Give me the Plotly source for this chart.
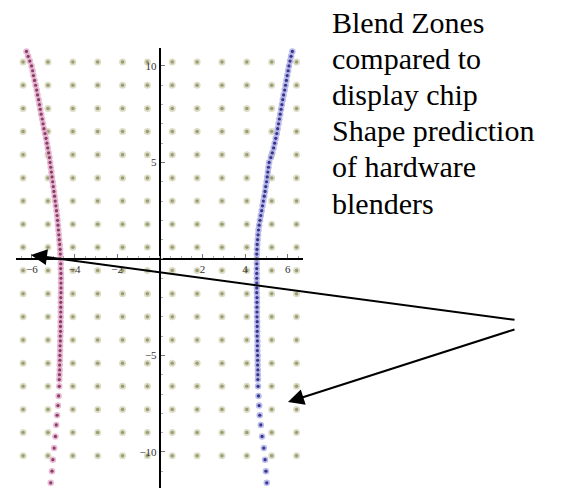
import plotly.graph_objects as go

# ---- data ----
grid_x = [-6.417, -5.25, -4.083, -2.917, -1.75, -0.583, 0.583, 1.75, 2.917, 4.083, 5.25, 6.417]
grid_y = [-10.2, -9.0, -7.8, -6.6, -5.4, -4.2, -3.0, -1.8, -0.6, 0.6, 1.8, 3.0, 4.2, 5.4, 6.6, 7.8, 9.0, 10.2]

curve_y = [10.75, 10.5, 10.25, 10.0, 9.75, 9.5, 9.25, 9.0, 8.75, 8.5, 8.25, 8.0, 7.75, 7.5, 7.25, 7.0,
           6.75, 6.5, 6.25, 6.0, 5.75, 5.5, 5.25, 5.0, 4.75, 4.5, 4.25, 4.0, 3.75, 3.5, 3.25, 3.0,
           2.75, 2.5, 2.25, 2.0, 1.75, 1.5, 1.25, 1.0, 0.75, 0.5, 0.25, 0.0,
           -0.25, -0.5, -0.75, -1.0, -1.25, -1.5, -1.75, -2.0, -2.25, -2.5, -2.75, -3.0, -3.25, -3.5,
           -3.75, -4.0, -4.25, -4.5, -4.75, -5.0, -5.25, -5.5, -5.75, -6.0, -6.25,
           -6.6, -7.1, -7.6, -8.1, -8.6, -9.2, -9.8, -10.4, -11.0, -11.6]

left_x = [-6.26, -6.18, -6.10, -6.02, -5.97, -5.93, -5.88, -5.83, -5.78, -5.74, -5.69, -5.65, -5.61, -5.57, -5.52, -5.48,
          -5.44, -5.39, -5.34, -5.30, -5.26, -5.22, -5.18, -5.15, -5.12, -5.09, -5.06, -5.03, -5.00, -4.97, -4.94, -4.91,
          -4.88, -4.85, -4.82, -4.80, -4.78, -4.76, -4.74, -4.72, -4.70, -4.68, -4.67, -4.66,
          -4.65, -4.65, -4.64, -4.64, -4.64, -4.64, -4.64, -4.65, -4.65, -4.65, -4.65, -4.65, -4.66, -4.66,
          -4.66, -4.67, -4.67, -4.68, -4.68, -4.69, -4.69, -4.70, -4.70, -4.71, -4.72,
          -4.72, -4.75, -4.78, -4.82, -4.86, -4.90, -4.96, -5.02, -5.06, -5.12]

right_x = [6.22, 6.16, 6.11, 6.06, 6.02, 5.98, 5.94, 5.90, 5.86, 5.81, 5.77, 5.73, 5.69, 5.65, 5.61, 5.57,
           5.53, 5.49, 5.44, 5.39, 5.34, 5.28, 5.21, 5.13, 5.10, 5.07, 5.04, 5.01, 4.97, 4.94, 4.90, 4.86,
           4.82, 4.78, 4.74, 4.70, 4.66, 4.63, 4.61, 4.59, 4.57, 4.56, 4.55, 4.55,
           4.55, 4.55, 4.55, 4.55, 4.55, 4.55, 4.55, 4.56, 4.56, 4.56, 4.56, 4.56, 4.57, 4.57,
           4.57, 4.57, 4.58, 4.58, 4.58, 4.59, 4.59, 4.59, 4.60, 4.60, 4.60,
           4.61, 4.63, 4.66, 4.69, 4.74, 4.80, 4.88, 4.94, 4.98, 5.02]

x_ticks = [-6, -4, -2, 2, 4, 6]
y_ticks = [-10, -5, 5, 10]

caption_lines = ["Blend Zones", "compared to", "display chip", "Shape prediction", "of hardware", "blenders"]

# ---- layout geometry (page pixels; page body margin is removed below) ----
W, H = 565, 488
ml, mr, mt, mb = 16, 262, 48, 0
pw, ph = W - ml - mr, H - mt - mb

x_range = [-6.75, 6.72]
y_range = [-11.87, 10.93]


def px_to_paper(px, py):
    return (px - ml) / pw, 1 - (py - mt) / ph


gx = [x for y in grid_y for x in grid_x]
gy = [y for y in grid_y for x in grid_x]

fig = go.Figure()
fig.add_trace(go.Scatter(x=gx, y=gy, mode="markers",
                         marker=dict(size=7, color="rgba(210,210,180,0.75)", line=dict(width=0)),
                         hoverinfo="skip", showlegend=False))
fig.add_trace(go.Scatter(x=gx, y=gy, mode="markers",
                         marker=dict(size=3.5, color="#9c9c74", line=dict(width=0)),
                         hoverinfo="skip", showlegend=False))

for cx, halo, core in [(left_x, "rgba(225,170,200,0.8)", "#8a3a66"),
                       (right_x, "rgba(170,170,230,0.8)", "#34348a")]:
    fig.add_trace(go.Scatter(x=cx, y=curve_y, mode="markers",
                             marker=dict(size=6.5, color=halo, line=dict(width=0)),
                             hoverinfo="skip", showlegend=False))
    fig.add_trace(go.Scatter(x=cx, y=curve_y, mode="markers",
                             marker=dict(size=3.2, color=core, line=dict(width=0)),
                             hoverinfo="skip", showlegend=False))

xpos = (0 - y_range[0]) / (y_range[1] - y_range[0])
ypos = (0 - x_range[0]) / (x_range[1] - x_range[0])

tick_font = dict(family="Liberation Serif", size=11, color="#333333")

fig.update_xaxes(range=x_range, anchor="free", position=xpos, showgrid=False, zeroline=False,
                 showline=True, linecolor="black", linewidth=2,
                 tickmode="array", tickvals=x_ticks, ticks="inside", ticklen=4,
                 tickcolor="#777777", tickwidth=1, tickfont=tick_font,
                 minor=dict(dtick=0.5, ticks="inside", ticklen=2, tickcolor="#aaaaaa", showgrid=False))
fig.update_yaxes(range=y_range, anchor="free", position=ypos, showgrid=False, zeroline=False,
                 showline=True, linecolor="black", linewidth=2,
                 tickmode="array", tickvals=y_ticks, ticks="inside", ticklen=4,
                 tickcolor="#777777", tickwidth=1, tickfont=tick_font,
                 minor=dict(dtick=1, ticks="inside", ticklen=2, tickcolor="#aaaaaa", showgrid=False))

# caption, one annotation per line, placed by baseline
cap_size = 30
baselines = [34, 70, 106, 142, 178, 215]
for line, base in zip(caption_lines, baselines):
    tx, ty = px_to_paper(330, base - cap_size)
    fig.add_annotation(x=tx, y=ty, xref="paper", yref="paper", xanchor="left", yanchor="top",
                       text=line, showarrow=False, align="left",
                       font=dict(family="Liberation Serif", size=cap_size, color="black"))

# arrows
for tip, tail in [((31, 255), (516, 320)), ((288, 402), (516, 329))]:
    ax_, ay_ = px_to_paper(*tip)
    fig.add_annotation(x=ax_, y=ay_, xref="paper", yref="paper", text="", showarrow=True,
                       ax=tail[0] - tip[0], ay=tail[1] - tip[1],
                       arrowhead=2, arrowsize=1.6, arrowwidth=2, arrowcolor="black")

fig.update_layout(width=W, height=H, margin=dict(l=ml, r=mr, t=mt, b=mb),
                  plot_bgcolor="white", paper_bgcolor="white", showlegend=False,
                  hovermode=False)

fig.write_html("out.html", config={"displayModeBar": False},
               post_script="document.body.style.margin='0';document.body.style.overflow='hidden';")
